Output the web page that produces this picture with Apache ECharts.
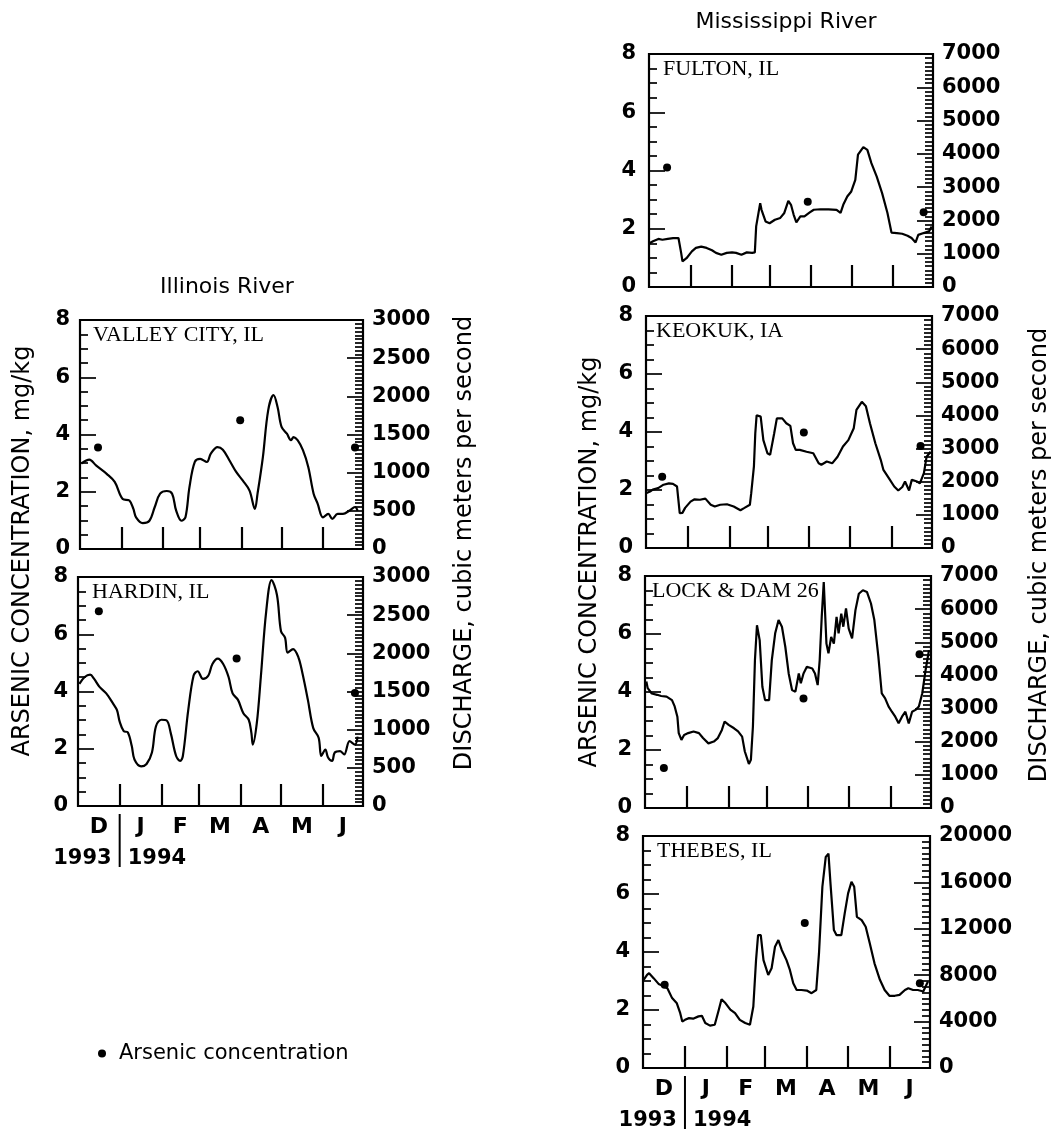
<!DOCTYPE html>
<html><head><meta charset="utf-8">
<script src="https://cdn.jsdelivr.net/npm/echarts@6/dist/echarts.min.js"></script>
<style>html,body{margin:0;padding:0;background:#fff}#chart{width:1059px;height:1135px}</style>
</head><body><div id="chart"></div>
<script>
// ---------- DATA (x = days since 1 Dec 1993) ----------
const monthTicks = [31, 62, 90, 121, 151, 182];
const monthCenters = [15.5, 46.5, 76, 105.5, 136, 166.5, 197];
const monthLabels = ['D', 'J', 'F', 'M', 'A', 'M', 'J'];
const yearLabels = ['1993', '1994'];
const stationNames = ['VALLEY CITY, IL', 'HARDIN, IL', 'FULTON, IL', 'KEOKUK, IA', 'LOCK & DAM 26', 'THEBES, IL'];
const riverTitles = ['Illinois River', 'Mississippi River'];
const concAxisName = 'ARSENIC CONCENTRATION, mg/kg';
const dischargeAxisName = 'DISCHARGE, cubic meters per second';
const legendName = 'Arsenic concentration';
const dischargeMax = [3000, 3000, 7000, 7000, 7000, 20000];
const dischargeStep = [500, 500, 1000, 1000, 1000, 4000];

const valleyCityDischarge = [[1,1120],[7,1170],[12,1095],[20,985],[26,880],[32,655],[37,635],[40,525],[42,415],[47,340],[52,370],[56,550],[60,725],[65,760],[69,725],[72,505],[76,370],[79,415],[82,810],[86,1140],[90,1180],[95,1140],[98,1250],[103,1335],[107,1300],[112,1160],[117,1010],[122,895],[127,765],[131,525],[133,725],[137,1205],[141,1820],[145,2015],[148,1860],[151,1600],[155,1510],[158,1425],[160,1465],[163,1425],[167,1295],[171,1075],[175,725],[178,595],[182,415],[186,460],[189,395],[193,460],[197,460],[202,505],[206,550],[208,500]];
const valleyCityArsenic = [[13.5,3.55],[120,4.5],[206,3.55]];

const hardinDischarge = [[1,1600],[5,1690],[9,1720],[12,1665],[16,1560],[21,1475],[26,1345],[29,1255],[31,1105],[34,980],[37,965],[40,785],[42,610],[47,520],[51,550],[55,700],[58,1045],[62,1130],[66,1120],[69,955],[73,655],[76,590],[78,655],[82,1255],[86,1710],[89,1765],[93,1665],[97,1710],[100,1860],[104,1930],[108,1860],[112,1690],[115,1475],[119,1390],[123,1215],[127,1130],[129,955],[130,805],[133,1085],[136,1690],[140,2550],[144,2960],[148,2765],[151,2290],[154,2205],[156,2010],[160,2055],[164,1945],[167,1735],[171,1390],[175,1020],[179,895],[181,655],[184,740],[186,635],[189,590],[191,700],[195,720],[198,675],[202,850],[206,805],[208,910]];
const hardinArsenic = [[15.5,6.8],[118,5.15],[206,3.95]];

const fultonDischarge = [[0,1305],[3,1375],[7,1445],[10,1420],[14,1445],[18,1470],[22,1470],[23,1420],[24,1025],[25,770],[28,865],[32,1070],[35,1175],[39,1215],[43,1175],[47,1105],[50,1025],[54,970],[58,1025],[62,1040],[65,1025],[69,970],[73,1040],[77,1025],[79,1040],[80,1820],[83,2520],[84,2320],[87,1970],[90,1915],[94,2020],[98,2075],[101,2225],[104,2590],[106,2470],[108,2170],[110,1945],[113,2120],[116,2120],[120,2240],[123,2320],[128,2335],[134,2335],[140,2320],[143,2225],[145,2470],[148,2720],[151,2870],[154,3220],[156,3975],[160,4200],[163,4120],[166,3720],[170,3315],[174,2820],[178,2225],[181,1635],[185,1620],[189,1600],[193,1540],[196,1470],[199,1340],[201,1565],[205,1620],[209,1670],[211,1820]];
const fultonArsenic = [[13.5,4.1],[118.5,2.93],[205,2.57]];

const keokukDischarge = [[0,1655],[3,1705],[5,1760],[9,1805],[13,1910],[17,1950],[20,1935],[23,1855],[24,1450],[25,1050],[27,1060],[29,1210],[33,1400],[36,1470],[40,1455],[44,1490],[48,1305],[51,1250],[55,1305],[60,1320],[65,1250],[70,1140],[73,1210],[77,1305],[78,1655],[80,2460],[81,3455],[82,4005],[85,3965],[87,3255],[90,2860],[92,2810],[95,3455],[97,3910],[101,3910],[104,3765],[107,3685],[109,3160],[111,2960],[114,2960],[119,2905],[124,2860],[128,2555],[130,2510],[134,2610],[138,2555],[142,2755],[146,3065],[150,3255],[154,3615],[156,4165],[160,4410],[163,4280],[166,3765],[170,3160],[174,2660],[176,2355],[180,2110],[184,1855],[187,1735],[190,1840],[192,2005],[195,1735],[197,2055],[201,2005],[203,1950],[206,2260],[208,2755],[211,2905]];
const keokukArsenic = [[12,2.46],[117,3.98],[203.5,3.52]];

const lockDam26Discharge = [[1,3815],[2,3615],[5,3455],[9,3415],[12,3380],[16,3360],[20,3255],[22,3065],[24,2755],[25,2260],[27,2055],[29,2205],[32,2260],[36,2310],[40,2260],[43,2110],[47,1950],[51,2005],[54,2110],[57,2355],[59,2610],[62,2510],[66,2405],[69,2310],[72,2155],[74,1705],[77,1330],[78.5,1455],[80,2460],[81.5,4465],[83,5515],[85,5065],[87,3660],[89,3255],[92,3255],[94,4465],[96.5,5270],[99,5670],[101.5,5470],[104,4865],[106.5,4060],[109,3560],[111.5,3510],[114,4060],[115.5,3765],[117.5,4060],[120,4260],[124,4210],[126,4060],[128,3710],[129.5,4465],[131,5765],[132.5,6820],[134.5,4960],[136,4665],[138,5165],[140,4960],[142,5765],[143.5,5270],[145.5,5865],[147,5470],[149,6020],[151,5415],[153.5,5120],[156,5970],[158.5,6465],[161.5,6570],[164.5,6520],[167.5,6170],[170,5670],[173,4560],[175.5,3455],[178,3310],[180.5,3065],[183,2905],[185.5,2755],[188,2555],[190.5,2755],[193,2905],[195.5,2555],[198,2905],[200.5,2960],[203,3065],[205.5,3455],[208,4165],[210.5,4760]];
const lockDam26Arsenic = [[14,1.38],[117.5,3.78],[203.5,5.3]];

const thebesDischarge = [[0.5,7600],[3,8025],[4.5,8175],[8,7725],[11.5,7250],[15,7075],[18,6875],[21.5,6025],[25,5575],[27.5,4725],[29,4000],[31,4150],[34,4300],[37,4250],[41,4450],[43.5,4500],[46,3875],[49.5,3650],[53,3725],[56,5025],[58,5925],[61,5575],[64.5,5025],[68,4725],[71.5,4150],[75.5,3875],[79,3725],[81.5,5300],[83.5,9300],[85,11450],[87,11450],[89,9300],[92.5,8025],[95,8600],[97.5,10450],[100,11025],[102.5,10175],[106,9300],[108.5,8450],[111,7300],[113.5,6725],[117,6725],[121,6675],[124.5,6450],[128,6725],[130,9875],[132.5,15625],[135,18200],[137,18475],[138.5,15900],[141,11900],[143,11450],[146.5,11450],[149,13325],[151.5,15050],[154,16050],[156,15625],[158,13025],[161.5,12750],[164.5,12175],[167.5,10750],[171,9025],[175,7600],[178.5,6725],[182,6225],[186,6225],[189.5,6300],[193.5,6725],[196,6875],[199.5,6725],[203,6725],[207,6600],[210.5,7450]];
const thebesArsenic = [[16,2.87],[119.5,5.0],[204.5,2.92]];

const dischargeSeries = [valleyCityDischarge, hardinDischarge, fultonDischarge, keokukDischarge, lockDam26Discharge, thebesDischarge];
const arsenicSeries = [valleyCityArsenic, hardinArsenic, fultonArsenic, keokukArsenic, lockDam26Arsenic, thebesArsenic];

// ---------- LAYOUT / STYLE ----------
const boxes = [
  {left: 80, top: 320, width: 283, height: 229},
  {left: 78, top: 577, width: 285, height: 229},
  {left: 649, top: 54, width: 284, height: 233},
  {left: 646, top: 316, width: 286, height: 232},
  {left: 645, top: 576, width: 286, height: 232},
  {left: 643, top: 836, width: 287, height: 232}
];
const minorSplit = [10, 10, 8, 8, 8, 8];
const smoothness = [0.35, 0.35, false, false, false, false];
const showMonths = [false, true, false, false, false, true];
const leftLabelMargin = [10, 10, 13, 13, 13, 13];
const stationDx = [13, 14, 14, 10, 7, 14];
const SANS = 'DejaVu Sans', SERIF = 'Liberation Serif';
const tickLine = {color: '#000', width: 1.7};
const TICK_FONT = 21;

function monthLabelAt(v) {
  const i = monthCenters.indexOf(v);
  return i >= 0 ? monthLabels[i] : '';
}

const grid = [], xAxis = [], yAxis = [], series = [];
boxes.forEach((b, i) => {
  grid.push({left: b.left, top: b.top, width: b.width, height: b.height, show: true,
    borderColor: '#000', borderWidth: 2.2, backgroundColor: 'transparent'});
  xAxis.push({type: 'value', gridIndex: i, min: 0, max: 212,
    axisLine: {show: false}, splitLine: {show: false},
    axisTick: {show: true, inside: true, length: 22, customValues: monthTicks, lineStyle: {color: '#000', width: 2.2}},
    axisLabel: {show: showMonths[i], customValues: monthCenters, formatter: monthLabelAt,
      fontFamily: SANS, fontWeight: 'bold', fontSize: 22, color: '#000', margin: 10}});
  yAxis.push({type: 'value', gridIndex: i, position: 'left', min: 0, max: 8, interval: 2,
    axisLine: {show: false}, splitLine: {show: false},
    axisTick: {show: true, inside: true, length: 16, lineStyle: tickLine},
    minorTick: {show: true, splitNumber: 4, length: 8, lineStyle: tickLine},
    axisLabel: {fontFamily: SANS, fontWeight: 'bold', fontSize: TICK_FONT, color: '#000', margin: leftLabelMargin[i]}});
  yAxis.push({type: 'value', gridIndex: i, position: 'right', min: 0, max: dischargeMax[i], interval: dischargeStep[i],
    axisLine: {show: false}, splitLine: {show: false},
    axisTick: {show: true, inside: true, length: 16, lineStyle: tickLine},
    minorTick: {show: true, splitNumber: minorSplit[i], length: 8, lineStyle: tickLine},
    axisLabel: {fontFamily: SANS, fontWeight: 'bold', fontSize: TICK_FONT, color: '#000', margin: 9,
      formatter: v => String(v)}});
  series.push({type: 'line', xAxisIndex: i, yAxisIndex: 2 * i + 1, data: dischargeSeries[i],
    showSymbol: false, smooth: smoothness[i], silent: true,
    lineStyle: {color: '#000', width: 2.2}, z: 3});
  series.push({name: legendName, type: 'scatter', xAxisIndex: i, yAxisIndex: 2 * i, data: arsenicSeries[i],
    symbol: 'circle', symbolSize: 8, itemStyle: {color: '#000', opacity: 1}, z: 4});
});

const chart = echarts.init(document.getElementById('chart'), null, {renderer: 'canvas'});
chart.setOption({
  animation: false,
  backgroundColor: '#fff',
  grid, xAxis, yAxis, series,
  legend: {data: [legendName], left: 93, top: 1038, icon: 'circle', itemWidth: 8, itemHeight: 8,
    itemStyle: {opacity: 1},
    textStyle: {fontFamily: SANS, fontSize: 21, color: '#000', padding: [0, 0, 0, 8]}}
});

// ---------- annotations ----------
const txt = (text, x, y, size, opts) => Object.assign({type: 'text', x, y, silent: true,
  style: Object.assign({text, fill: '#000', fontSize: size, fontFamily: SANS, align: 'center', verticalAlign: 'middle'}, (opts && opts.style) || {})},
  opts && opts.rotation !== undefined ? {rotation: opts.rotation} : {});
const graphic = [];
graphic.push(txt(riverTitles[0], 227, 287, 22));
graphic.push(txt(riverTitles[1], 786, 22, 22));
graphic.push(txt(concAxisName, 23, 551, 24, {rotation: Math.PI / 2}));
graphic.push(txt(dischargeAxisName, 465, 543, 24, {rotation: Math.PI / 2}));
graphic.push(txt(concAxisName, 590, 562, 24, {rotation: Math.PI / 2}));
graphic.push(txt(dischargeAxisName, 1040, 555, 24, {rotation: Math.PI / 2}));
boxes.forEach((b, i) => {
  graphic.push(txt(stationNames[i], b.left + stationDx[i], b.top + 15, 22,
    {style: {fontFamily: SERIF, align: 'left'}}));
  if (showMonths[i]) {
    const xs = chart.convertToPixel({xAxisIndex: i}, monthTicks[0]);
    const bottom = b.top + b.height;
    graphic.push({type: 'line', silent: true, shape: {x1: xs, y1: bottom + 8, x2: xs, y2: bottom + 61},
      style: {stroke: '#000', lineWidth: 2}});
    graphic.push(txt(yearLabels[0], xs - 8, bottom + 53, 21, {style: {align: 'right', fontWeight: 'bold'}}));
    graphic.push(txt(yearLabels[1], xs + 8, bottom + 53, 21, {style: {align: 'left', fontWeight: 'bold'}}));
  }
});
chart.setOption({graphic});
</script>
</body></html>
